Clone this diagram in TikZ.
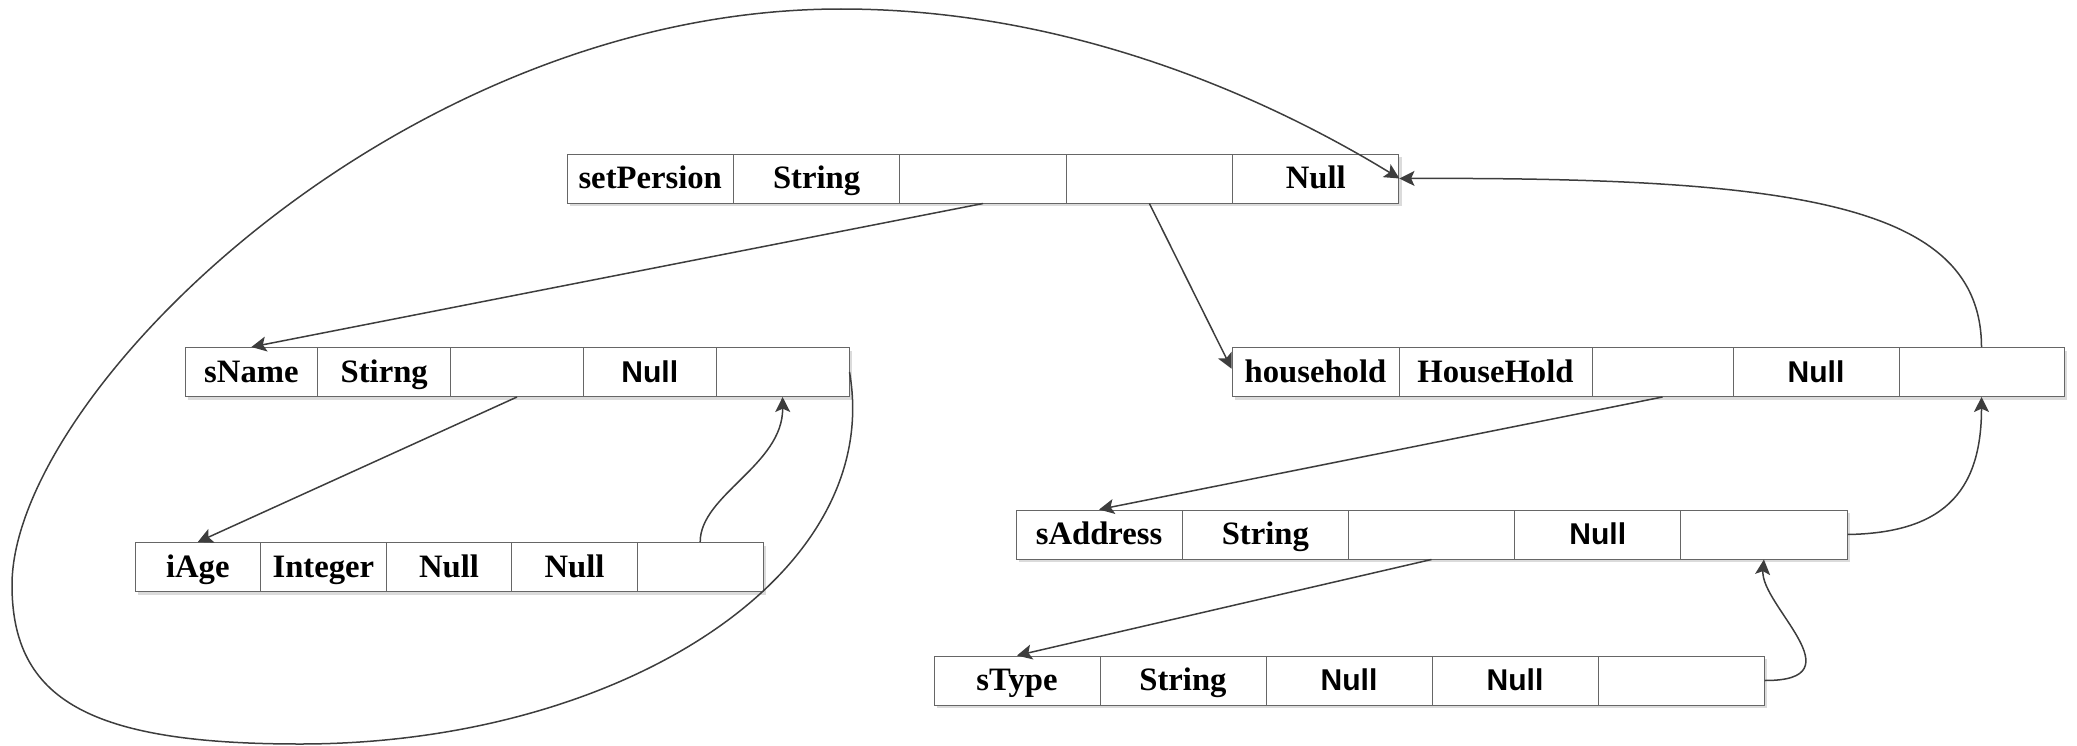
\documentclass[tikz,border=0pt]{standalone}
\usepackage{fontspec}
\setmainfont{Liberation Serif}
\setsansfont[Scale=0.92]{Liberation Sans}
\usetikzlibrary{arrows.meta,shadows}

\tikzset{
  cell/.style={draw=black!60, fill=white, line width=0.3pt, inner sep=0pt,
    minimum height=14.7pt, text height=7.5pt, text depth=1.5pt,
    font=\fontsize{9.8}{12}\selectfont\bfseries,
    drop shadow={shadow xshift=0.9pt, shadow yshift=-0.9pt, fill=black!14, opacity=1}},
  link/.style={->, draw=black!76, line width=0.45pt}
}

\begin{document}
\begin{tikzpicture}[x=0.3pt, y=0.3pt, >={Stealth[length=4.5pt,width=4.5pt,inset=1pt]}]
\useasboundingbox (0,0) rectangle (2077,745);

% Create the setPersion record
\foreach \t [count=\i] in {setPersion, String, {}, {}, Null}
  \node [cell, minimum width=49.9pt] (setp-\i) at ({567+166.4*(\i-0.5)},566.5) {\t};

% Create the sName record
\foreach \t [count=\i] in {sName, Stirng, {}, \sffamily Null, {}}
  \node [cell, minimum width=39.84pt] (name-\i) at ({185+132.8*(\i-0.5)},373) {\t};

% Create the household record (cells differ in width)
\foreach \t/\c/\w [count=\i] in {household/1315.5/50.1, HouseHold/1495.5/57.9,
    {}/1662.5/42.3, \sffamily Null/1816/49.8, {}/1981.5/49.5}
  \node [cell, minimum width=\w pt] (house-\i) at (\c,373) {\t};

% Create the iAge record
\foreach \t [count=\i] in {iAge, Integer, Null, Null, {}}
  \node [cell, minimum width=37.68pt] (age-\i) at ({135+125.6*(\i-0.5)},178) {\t};

% Create the sAddress record
\foreach \t [count=\i] in {sAddress, String, {}, \sffamily Null, {}}
  \node [cell, minimum width=49.86pt] (addr-\i) at ({1016+166.2*(\i-0.5)},210.5) {\t};

% Create the sType record
\foreach \t [count=\i] in {sType, String, \sffamily Null, \sffamily Null, {}}
  \node [cell, minimum width=49.8pt] (type-\i) at ({934+166*(\i-0.5)},64.5) {\t};

% Straight links down to the next record
\draw [link] (setp-3.south) -- (name-1.north);
\draw [link] (setp-4.south) -- ([yshift=1pt]house-1.west);
\draw [link] (name-3.south) -- (age-1.north);
\draw [link] (house-3.south) -- (addr-1.north);
\draw [link] (addr-3.south) -- (type-1.north);

% Links back up to the parent record
\draw [link] (age-5.north) .. controls (700,250) and (783,280) .. (name-5.south);
\draw [link] (type-5.east) .. controls (1860,64) and (1760,140) .. (addr-5.south);
\draw [link] (addr-5.east) .. controls (1940,212) and (1981.5,250) .. (house-5.south);
\draw [link] (house-5.north) .. controls (1981,540) and (1800,568) .. (setp-5.east);

% The long loop from sName round to setPersion
\draw [link] (name-5.east) .. controls (885,170) and (620,1) .. (300,1)
  .. controls (90,1) and (12,45) .. (12,160)
  .. controls (12,350) and (400,736) .. (841,736)
  .. controls (1080,736) and (1279,640) .. (setp-5.east);

\end{tikzpicture}
\end{document}
